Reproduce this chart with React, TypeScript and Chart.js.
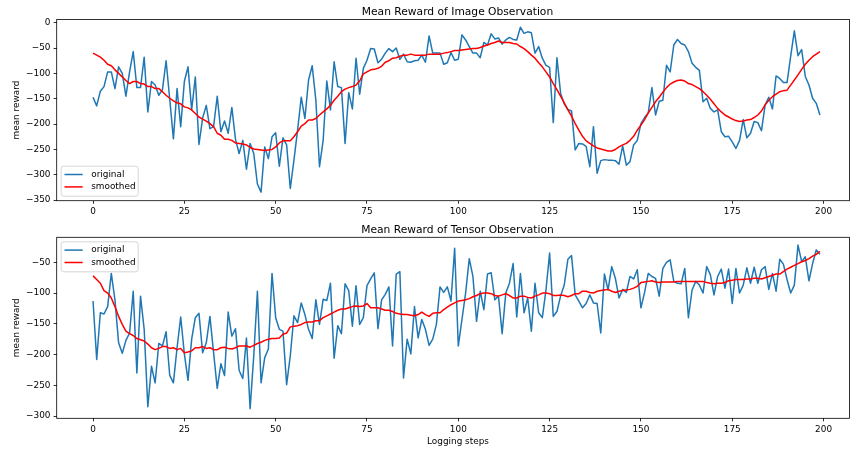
import React, { useEffect, useRef } from "react";
import { Chart, registerables } from "chart.js";

Chart.register(...registerables);

// ---------- data ----------
const steps: number[] = Array.from({ length: 200 }, (_, i) => i);

const imageOriginal: number[] = [
  -147, -164, -135, -126, -97, -97, -130, -87, -100, -145,
  -97, -57, -128, -128, -68, -176, -116, -123, -143, -132,
  -75, -151, -229, -130, -205, -116, -87, -172, -107, -240,
  -188, -163, -209, -205, -145, -215, -194, -218, -167, -230,
  -258, -232, -289, -238, -258, -318, -334, -245, -268, -225,
  -217, -283, -227, -241, -327, -271, -212, -147, -189, -113,
  -85, -153, -284, -232, -115, -172, -77, -126, -128, -238,
  -138, -170, -70, -141, -90, -74, -51, -52, -79, -72,
  -60, -51, -57, -50, -72, -62, -77, -78, -75, -74,
  -64, -78, -26, -60, -60, -60, -82, -79, -59, -74,
  -72, -24, -34, -47, -60, -60, -69, -39, -44, -22,
  -32, -30, -42, -34, -29, -33, -34, -9, -21, -18,
  -20, -60, -47, -70, -84, -88, -197, -69, -139, -160,
  -171, -174, -251, -238, -239, -244, -284, -205, -297, -272,
  -270, -271, -271, -272, -279, -243, -281, -274, -241, -232,
  -199, -187, -178, -128, -182, -155, -153, -84, -97, -44,
  -33, -41, -44, -57, -80, -88, -94, -156, -149, -169,
  -176, -172, -215, -225, -224, -235, -248, -232, -191, -227,
  -218, -195, -197, -213, -162, -147, -170, -105, -110, -118,
  -118, -66, -16, -65, -53, -106, -123, -149, -159, -182,
];

const imageSmoothed: number[] = [
  -60, -64, -68, -74, -82, -85, -93, -100, -107, -114,
  -120, -116, -116, -120, -121, -126, -126, -130, -130, -136,
  -143, -149, -154, -158, -160, -166, -168, -172, -179, -186,
  -190, -194, -199, -205, -218, -222, -230, -230, -232, -237,
  -238, -239, -241, -246, -249, -250, -251, -252, -251, -250,
  -245, -237, -233, -233, -233, -225, -215, -204, -199, -192,
  -192, -189, -182, -176, -170, -163, -153, -145, -136, -131,
  -128, -126, -123, -115, -101, -97, -93, -92, -90, -86,
  -78, -75, -70, -69, -66, -64, -64, -62, -64, -64,
  -64, -64, -62, -62, -62, -62, -60, -59, -57, -55,
  -55, -54, -53, -52, -51, -51, -49, -46, -44, -41,
  -39, -36, -39, -39, -39, -41, -42, -47, -51, -57,
  -64, -70, -79, -87, -97, -107, -120, -132, -145, -158,
  -172, -184, -199, -212, -224, -233, -238, -243, -247, -249,
  -251, -253, -253, -250, -245, -241, -238, -232, -224, -212,
  -202, -191, -178, -167, -156, -147, -137, -128, -121, -117,
  -114, -113, -115, -120, -122, -126, -130, -136, -143, -151,
  -160, -169, -176, -182, -186, -190, -193, -195, -194, -192,
  -191, -187, -182, -174, -162, -153, -146, -141, -136, -134,
  -133, -123, -113, -103, -92, -82, -74, -67, -62, -57,
];

const tensorOriginal: number[] = [
  -113, -208, -132, -134, -122, -68, -111, -181, -198, -177,
  -165, -97, -230, -105, -159, -285, -219, -246, -182, -186,
  -163, -234, -246, -189, -139, -199, -242, -175, -140, -133,
  -197, -181, -138, -197, -255, -215, -234, -131, -170, -158,
  -226, -239, -173, -288, -202, -97, -246, -205, -191, -68,
  -140, -159, -162, -249, -202, -137, -148, -116, -135, -159,
  -174, -111, -151, -110, -112, -84, -206, -153, -166, -85,
  -96, -154, -88, -151, -140, -88, -77, -67, -158, -111,
  -102, -90, -186, -69, -65, -238, -175, -199, -122, -173,
  -143, -159, -185, -175, -151, -90, -99, -90, -113, -27,
  -186, -143, -100, -44, -73, -146, -97, -127, -69, -67,
  -111, -105, -166, -100, -84, -52, -139, -68, -132, -108,
  -162, -84, -132, -140, -95, -35, -138, -130, -105, -87,
  -45, -39, -103, -113, -124, -117, -103, -116, -117, -165,
  -69, -95, -57, -76, -108, -94, -99, -73, -77, -62,
  -124, -99, -68, -73, -76, -105, -60, -50, -46, -81,
  -84, -85, -60, -140, -95, -81, -87, -100, -57, -70,
  -103, -73, -61, -92, -61, -117, -60, -100, -87, -59,
  -84, -58, -84, -62, -57, -94, -68, -97, -45, -53,
  -78, -100, -87, -22, -49, -41, -80, -52, -30, -37,
];

const tensorSmoothed: number[] = [
  -72, -78, -84, -96, -100, -108, -122, -138, -151, -162,
  -166, -169, -174, -176, -178, -183, -189, -192, -190, -187,
  -187, -190, -189, -192, -190, -197, -196, -194, -189, -189,
  -187, -190, -189, -192, -192, -189, -188, -190, -191, -189,
  -186, -186, -186, -188, -185, -182, -180, -177, -175, -174,
  -174, -173, -167, -165, -155, -154, -153, -151, -148, -147,
  -147, -145, -145, -140, -137, -134, -131, -128, -126, -126,
  -124, -122, -121, -122, -121, -117, -124, -124, -124, -126,
  -128, -128, -130, -133, -134, -135, -135, -136, -137, -135,
  -131, -135, -138, -133, -132, -132, -127, -123, -119, -116,
  -113, -112, -111, -109, -106, -104, -101, -100, -100, -101,
  -104, -105, -103, -101, -104, -108, -108, -105, -105, -107,
  -108, -105, -103, -100, -100, -101, -104, -104, -103, -104,
  -106, -104, -101, -101, -97, -97, -99, -100, -97, -96,
  -95, -94, -97, -99, -97, -96, -95, -94, -92, -89,
  -83, -82, -81, -80, -82, -83, -82, -82, -82, -82,
  -81, -81, -81, -81, -81, -81, -81, -81, -83, -84,
  -85, -84, -84, -83, -80, -79, -78, -78, -78, -77,
  -77, -76, -76, -77, -75, -73, -71, -69, -69, -65,
  -61, -58, -55, -52, -49, -47, -44, -40, -37, -32,
];

const xTicks: number[] = [0, 25, 50, 75, 100, 125, 150, 175, 200];
const imageYTicks: number[] = [0, -50, -100, -150, -200, -250, -300, -350];
const tensorYTicks: number[] = [-50, -100, -150, -200, -250, -300];

const seriesNames = ["original", "smoothed"];
const topTitle = "Mean Reward of Image Observation";
const bottomTitle = "Mean Reward of Tensor Observation";
const yLabel = "mean reward";
const xLabel = "Logging steps";

// ---------- style ----------
const FONT = "'DejaVu Sans', 'Liberation Sans', sans-serif";
const BLUE = "#1f77b4";
const RED = "#ff0000";
const W = 851;
const LINE_W = 1.5;

const fmt = (v: number) => (v < 0 ? "\u2212" + Math.abs(v) : String(v));

type PanelCfg = {
  orig: number[];
  smooth: number[];
  yMin: number;
  yMax: number;
  yTicks: number[];
  title: string;
  titleY: number;
  legend: "lower" | "upper";
  xLabelY?: number;
  padTop: number;
  xAxisHeight: number;
};

function buildConfig(cfg: PanelCfg): any {
  const decor = {
    id: "decor",
    afterDraw(chart: any) {
      const ctx = chart.ctx as CanvasRenderingContext2D;
      const a = chart.chartArea;
      ctx.save();
      // frame
      ctx.strokeStyle = "#000";
      ctx.lineWidth = 0.8;
      ctx.strokeRect(a.left, a.top, a.right - a.left, a.bottom - a.top);
      // title
      ctx.fillStyle = "#000";
      ctx.font = `10.7px ${FONT}`;
      ctx.textAlign = "center";
      ctx.textBaseline = "alphabetic";
      ctx.fillText(cfg.title, 457.5, cfg.titleY);
      // y label
      ctx.font = `8.9px ${FONT}`;
      ctx.save();
      ctx.translate(19.3, (a.top + a.bottom) / 2);
      ctx.rotate(-Math.PI / 2);
      ctx.fillText(yLabel, 0, 0);
      ctx.restore();
      // x label
      if (cfg.xLabelY !== undefined) {
        ctx.fillText(xLabel, 458, cfg.xLabelY);
      }
      // legend
      const lw = 77;
      const lh = 30;
      const lx = a.left + 4.5;
      const ly = cfg.legend === "lower" ? a.bottom - 4.5 - lh : a.top + 4.5;
      ctx.beginPath();
      const r = 2.5;
      ctx.moveTo(lx + r, ly);
      ctx.lineTo(lx + lw - r, ly);
      ctx.arcTo(lx + lw, ly, lx + lw, ly + r, r);
      ctx.lineTo(lx + lw, ly + lh - r);
      ctx.arcTo(lx + lw, ly + lh, lx + lw - r, ly + lh, r);
      ctx.lineTo(lx + r, ly + lh);
      ctx.arcTo(lx, ly + lh, lx, ly + lh - r, r);
      ctx.lineTo(lx, ly + r);
      ctx.arcTo(lx, ly, lx + r, ly, r);
      ctx.closePath();
      ctx.fillStyle = "rgba(255,255,255,0.8)";
      ctx.fill();
      ctx.strokeStyle = "#cccccc";
      ctx.lineWidth = 0.8;
      ctx.stroke();
      const rows = [
        { y: ly + 8.3, c: BLUE, t: seriesNames[0] },
        { y: ly + 20.7, c: RED, t: seriesNames[1] },
      ];
      ctx.font = `8.9px ${FONT}`;
      ctx.textAlign = "left";
      ctx.textBaseline = "middle";
      for (const row of rows) {
        ctx.beginPath();
        ctx.strokeStyle = row.c;
        ctx.lineWidth = LINE_W;
        ctx.moveTo(lx + 3.3, row.y);
        ctx.lineTo(lx + 21.5, row.y);
        ctx.stroke();
        ctx.fillStyle = "#000";
        ctx.fillText(row.t, lx + 30, row.y);
      }
      ctx.restore();
    },
  };

  return {
    type: "line",
    data: {
      datasets: [
        {
          label: seriesNames[0],
          data: steps.map((s, i) => ({ x: s, y: cfg.orig[i] })),
          borderColor: BLUE,
          borderWidth: LINE_W,
          pointRadius: 0,
          fill: false,
          tension: 0,
          borderJoinStyle: "round",
          order: 1,
        },
        {
          label: seriesNames[1],
          data: steps.map((s, i) => ({ x: s, y: cfg.smooth[i] })),
          borderColor: RED,
          borderWidth: LINE_W,
          pointRadius: 0,
          fill: false,
          tension: 0,
          borderJoinStyle: "round",
          order: 0,
        },
      ],
    },
    options: {
      responsive: false,
      animation: false,
      devicePixelRatio: 1,
      events: [],
      layout: { padding: { top: cfg.padTop, right: 1.5, left: 0, bottom: 0 } },
      plugins: {
        legend: { display: false },
        tooltip: { enabled: false },
        title: { display: false },
      },
      scales: {
        x: {
          type: "linear",
          min: -9.95,
          max: 207.1,
          afterBuildTicks: (s: any) => {
            s.ticks = xTicks.map((v) => ({ value: v }));
          },
          afterFit: (s: any) => {
            s.height = cfg.xAxisHeight;
          },
          grid: {
            drawOnChartArea: false,
            drawTicks: true,
            tickLength: 3.1,
            tickColor: "#000",
            tickWidth: 0.8,
          },
          border: { display: false },
          ticks: {
            autoSkip: false,
            maxRotation: 0,
            padding: 2.7,
            color: "#000",
            font: { family: FONT, size: 8.9 },
            callback: (v: any) => fmt(Number(v)),
          },
        },
        y: {
          type: "linear",
          min: cfg.yMin,
          max: cfg.yMax,
          afterBuildTicks: (s: any) => {
            s.ticks = cfg.yTicks.map((v) => ({ value: v }));
          },
          afterFit: (s: any) => {
            s.width = 56.7;
          },
          grid: {
            drawOnChartArea: false,
            drawTicks: true,
            tickLength: 3.1,
            tickColor: "#000",
            tickWidth: 0.8,
          },
          border: { display: false },
          ticks: {
            autoSkip: false,
            padding: 3.1,
            color: "#000",
            font: { family: FONT, size: 8.9 },
            callback: (v: any) => fmt(Number(v)),
          },
        },
      },
    },
    plugins: [decor],
  };
}

function Panel({ cfg, top, height }: { cfg: PanelCfg; top: number; height: number }) {
  const ref = useRef<HTMLCanvasElement | null>(null);
  useEffect(() => {
    if (!ref.current) return;
    const chart = new Chart(ref.current, buildConfig(cfg));
    return () => chart.destroy();
  }, []);
  return (
    <canvas
      ref={ref}
      width={W}
      height={height}
      style={{ position: "absolute", left: 0, top, width: W, height, display: "block" }}
    />
  );
}

const topCfg: PanelCfg = {
  orig: imageOriginal,
  smooth: imageSmoothed,
  yMin: -351,
  yMax: 6.3,
  yTicks: imageYTicks,
  title: topTitle,
  titleY: 14.7,
  legend: "lower",
  padTop: 19.5,
  xAxisHeight: 220 - 200.7,
};

const bottomCfg: PanelCfg = {
  orig: tensorOriginal,
  smooth: tensorSmoothed,
  yMin: -303.7,
  yMax: -9.3,
  yTicks: tensorYTicks,
  title: bottomTitle,
  titleY: 12.5,
  legend: "upper",
  xLabelY: 223.5,
  padTop: 17.3,
  xAxisHeight: 230 - 198.3,
};

export default function App() {
  return (
    <div style={{ position: "absolute", left: 0, top: 0, width: W, height: 450, background: "#fff" }}>
      <Panel cfg={topCfg} top={0} height={220} />
      <Panel cfg={bottomCfg} top={220} height={230} />
    </div>
  );
}
